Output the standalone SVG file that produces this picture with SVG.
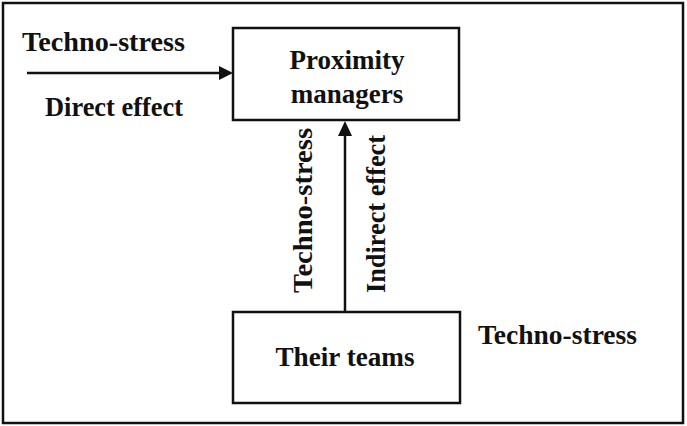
<svg xmlns="http://www.w3.org/2000/svg" width="687" height="426" viewBox="0 0 687 426">
<style>
.t{font-family:"Liberation Serif","Times New Roman",serif;font-weight:bold;font-size:27px;fill:#111}
.box{fill:#fff;stroke:#111;stroke-width:2.5}
.ln{stroke:#111;stroke-width:2.5;fill:none}
</style>
<rect x="0" y="0" width="687" height="426" fill="#fff"/>
<rect x="3" y="3" width="680" height="420" fill="none" stroke="#111" stroke-width="2.5"/>
<g id="proximity">
<rect class="box" x="233" y="28" width="226" height="92"/>
<text class="t" x="347" y="69" text-anchor="middle">Proximity</text>
<text class="t" x="347" y="103" text-anchor="middle">managers</text>
</g>
<g id="teams">
<rect class="box" x="233" y="312" width="227" height="91"/>
<text class="t" x="345" y="366" text-anchor="middle" textLength="139" lengthAdjust="spacingAndGlyphs">Their teams</text>
</g>
<g id="connectors">
<line class="ln" x1="27" y1="73" x2="220" y2="73"/>
<path d="M219,66 L233,73 L219,80 z" fill="#111"/>
<line class="ln" x1="345" y1="312" x2="345" y2="134"/>
<path d="M338,136 L345,121 L352,136 z" fill="#111"/>
</g>
<g id="labels">
<text class="t" x="22" y="51" textLength="163" lengthAdjust="spacingAndGlyphs">Techno-stress</text>
<text class="t" x="45" y="116" textLength="138" lengthAdjust="spacingAndGlyphs">Direct effect</text>
<text class="t" x="478" y="344" textLength="159" lengthAdjust="spacingAndGlyphs">Techno-stress</text>
<text class="t" transform="translate(312,293) rotate(-90)" textLength="165" lengthAdjust="spacingAndGlyphs">Techno-stress</text>
<text class="t" transform="translate(385,293) rotate(-90)" textLength="158" lengthAdjust="spacingAndGlyphs">Indirect effect</text>
</g>
</svg>
